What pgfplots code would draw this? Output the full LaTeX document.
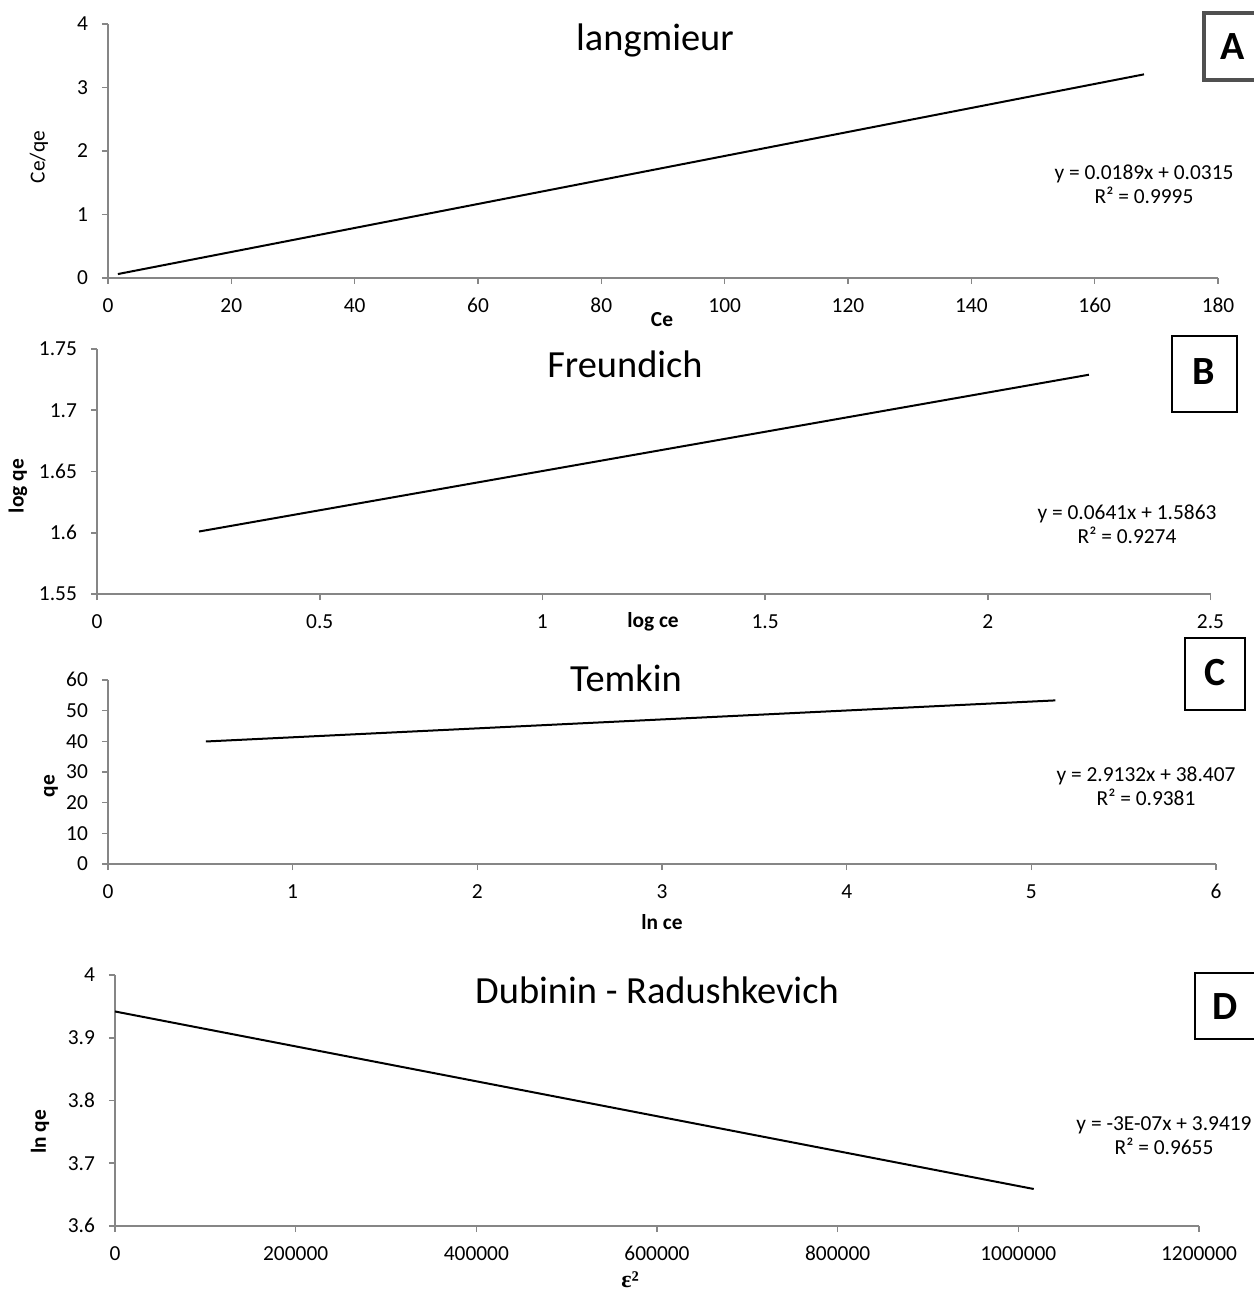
\documentclass[border=0pt]{standalone}
\usepackage{pgfplots}
\pgfplotsset{compat=1.18}
\usepackage{fontspec}
\setmainfont{Carlito}
\newfontfamily\greekserif{Liberation Serif}

\definecolor{axisgray}{HTML}{868686}
\definecolor{boxgray}{HTML}{505050}

\newcommand{\tickfont}{\fontsize{10.7}{12}\selectfont}
\newcommand{\titlefont}{\fontsize{19.2}{22}\selectfont}
\newcommand{\letterfont}{\fontsize{20}{24}\selectfont\bfseries}

\pgfplotsset{
  panel/.style={
    scale only axis, anchor=south west,
    axis lines=left,
    axis line style={-, axisgray, line width=0.8pt},
    tick style={axisgray, line width=0.8pt},
    tick align=outside, major tick length=3pt,
    ticklabel style={font=\tickfont, text=black},
    xticklabel style={text height=1.45ex, text depth=0pt, yshift=-4pt},
    yticklabel style={text height=1.45ex, text depth=0pt, xshift=-3.5pt},
    /pgf/number format/assume math mode=true,
    scaled ticks=false,
    clip=false,
  },
  fitline/.style={black, line width=1pt, no markers},
}

\begin{document}
\begin{tikzpicture}
\path[use as bounding box] (0,0) rectangle (626.5pt,-646.5pt);

% A: Langmuir
\begin{axis}[panel, at={(54pt,-139pt)}, width=555pt, height=127pt,
  xmin=0, xmax=180, ymin=0, ymax=4,
  xtick={0,20,...,180}, ytick={0,1,2,3,4}]
\addplot[fitline] coordinates {(1.6,0.062) (168,3.207)};
\end{axis}

% B: Freundlich
\begin{axis}[panel, at={(48.5pt,-297pt)}, width=556.75pt, height=122.5pt,
  xmin=0, xmax=2.5, ymin=1.55, ymax=1.75,
  xtick={0,0.5,1,1.5,2,2.5}, xticklabels={0,0.5,1,1.5,2,2.5},
  ytick={1.55,1.6,1.65,1.7,1.75}, yticklabels={1.55,1.6,1.65,1.7,1.75},
  yticklabel style={xshift=0pt}]
\addplot[fitline] coordinates {(0.229,1.601) (2.227,1.729)};
\end{axis}

% C: Temkin
\begin{axis}[panel, at={(54pt,-432pt)}, width=554pt, height=92pt,
  xmin=0, xmax=6, ymin=0, ymax=60,
  xtick={0,1,...,6}, ytick={0,10,...,60}]
\addplot[fitline] coordinates {(0.53,39.95) (5.13,53.35)};
\end{axis}

% D: Dubinin-Radushkevich
\begin{axis}[panel, at={(57.5pt,-613pt)}, width=542pt, height=125.5pt,
  xmin=0, xmax=1200000, ymin=3.6, ymax=4,
  xtick={0,200000,400000,600000,800000,1000000,1200000},
  xticklabels={0,200000,400000,600000,800000,1000000,1200000},
  ytick={3.6,3.7,3.8,3.9,4}, yticklabels={3.6,3.7,3.8,3.9,4}]
\addplot[fitline] coordinates {(0,3.9419) (1017000,3.659)};
\end{axis}

\begin{scope}[x=0.5pt, y=-0.5pt]
  % titles
  \node[font=\titlefont] at (655,40) {langmieur};
  \node[font=\titlefont] at (625,364) {Freundich};
  \node[font=\titlefont] at (626,678) {Temkin};
  \node[font=\titlefont] at (657,990) {Dubinin - Radushkevich};

  % axis titles
  \node[font=\tickfont, rotate=90] at (39,157) {Ce/qe};
  \node[font=\tickfont\bfseries] at (662,320) {Ce};
  \node[font=\tickfont\bfseries, rotate=90] at (18,486) {log qe};
  \node[font=\tickfont\bfseries] at (653,622) {log ce};
  \node[font=\tickfont\bfseries, rotate=90] at (51,786) {qe};
  \node[font=\tickfont\bfseries] at (662,922) {ln ce};
  \node[font=\tickfont\bfseries, rotate=90] at (40,1132) {ln qe};
  \node[font=\greekserif\fontsize{12}{14}\selectfont\bfseries] at (630,1280) {ε²};

  % trendline equations
  \node[font=\tickfont, align=center] at (1144,184) {y = 0.0189x + 0.0315\\R² = 0.9995};
  \node[font=\tickfont, align=center] at (1127,524) {y = 0.0641x + 1.5863\\R² = 0.9274};
  \node[font=\tickfont, align=center] at (1146,786) {y = 2.9132x + 38.407\\R² = 0.9381};
  \node[font=\tickfont, align=center] at (1164,1136) {y = -3E-07x + 3.9419\\R² = 0.9655};

  % panel letters
  \draw[boxgray, line width=1.6pt] (1204,13) rectangle (1275,80);
  \node[font=\letterfont] at (1233,47) {A};
  \draw[black, line width=1.4pt] (1172,336) rectangle (1237,412);
  \node[font=\letterfont] at (1204,372) {B};
  \draw[black, line width=1.4pt] (1185,638) rectangle (1245,710);
  \node[font=\letterfont] at (1215,673) {C};
  \draw[black, line width=1.2pt] (1195,973) rectangle (1275,1039);
  \node[font=\letterfont] at (1225,1007) {D};
\end{scope}
\end{tikzpicture}
\end{document}
